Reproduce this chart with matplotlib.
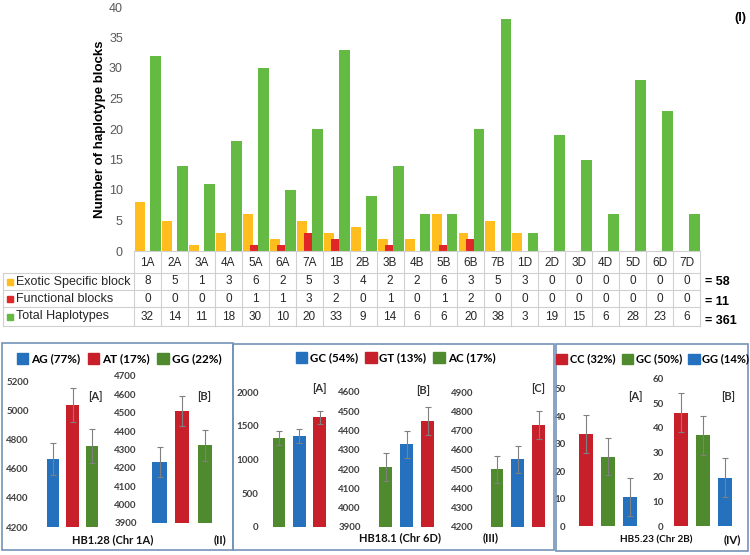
import numpy as np
import matplotlib
matplotlib.use('Agg')
import matplotlib.pyplot as plt
from matplotlib.patches import Patch, Rectangle

plt.rcParams['font.family'] = ['Liberation Sans', 'DejaVu Sans']

# ---- data: haplotype blocks per chromosome (panel I)
chroms = ['1A', '2A', '3A', '4A', '5A', '6A', '7A', '1B', '2B', '3B', '4B',
          '5B', '6B', '7B', '1D', '2D', '3D', '4D', '5D', '6D', '7D']
exotic = [8, 5, 1, 3, 6, 2, 5, 3, 4, 2, 2, 6, 3, 5, 3, 0, 0, 0, 0, 0, 0]
functional = [0, 0, 0, 0, 1, 1, 3, 2, 0, 1, 0, 1, 2, 0, 0, 0, 0, 0, 0, 0, 0]
total = [32, 14, 11, 18, 30, 10, 20, 33, 9, 14, 6, 6, 20, 38, 3, 19, 15, 6, 28, 23, 6]
row_names = ['Exotic Specific block', 'Functional blocks', 'Total Haplotypes']

# ---- data: haplotype effects (panels II - IV)
hb128_labels = ['AG (77%)', 'AT (17%)', 'GG (22%)']
hb128_a = [4666, 5036, 4755]
hb128_a_err = [107, 114, 114]
hb128_b = [4230, 4510, 4323]
hb128_b_err = [81, 81, 83]

hb181_labels = ['GC (54%)', 'GT (13%)', 'AC (17%)']
hb181_a = [1323, 1348, 1625]      # order on plot: AC, GC, GT
hb181_a_err = [104, 100, 98]
hb181_b = [4213, 4329, 4451]
hb181_b_err = [72, 71, 73]
hb181_c = [4499, 4551, 4729]
hb181_c_err = [69, 69, 72]

hb523_labels = ['CC (32%)', 'GC (50%)', 'GG (14%)']
hb523_a = [33.6, 25.3, 10.5]
hb523_a_err = [6.9, 6.7, 6.9]
hb523_b = [46.2, 37.0, 19.7]
hb523_b_err = [8.0, 7.9, 7.9]

YEL, RED, GRN = '#FFBE1E', '#E02626', '#64BA42'
B2, R2, G2 = '#2571BD', '#C8202A', '#4F8A2E'
BORDER = '#7393B8'
W, H = 750, 555


def px_box(x0, y0, x1, y1):
    return [x0 / W, 1 - y1 / H, (x1 - x0) / W, (y1 - y0) / H]


def fx(x):
    return x / W


def fy(y):
    return 1 - y / H


fig = plt.figure(figsize=(7.5, 5.55), dpi=100)

# ================= panel I =================
ax = fig.add_axes(px_box(134, 7, 700, 251))
x = np.arange(len(chroms))
ax.bar(x + 0.04, exotic, width=0.37, align='edge', color=YEL)
ax.bar(x + 0.30, functional, width=0.30, align='edge', color=RED)
ax.bar(x + 0.60, total, width=0.40, align='edge', color=GRN)
ax.set_xlim(0, len(chroms))
ax.set_ylim(0, 40)
ax.set_yticks(range(0, 41, 5))
ax.set_xticks([])
ax.tick_params(axis='y', length=0, pad=8, labelsize=9, labelcolor='#595959')
for s in ['top', 'right', 'left']:
    ax.spines[s].set_visible(False)
ax.spines['bottom'].set_color('#d0d0d0')
ax.set_ylabel('Number of haplotype blocks', fontsize=9.5, fontweight='bold', labelpad=2)
fig.text(fx(740), fy(18), '(I)', ha='center', va='center', fontsize=9, fontweight='bold')

# data table under the bars
lab_w = 131 / 26.95
tb = fig.add_axes(px_box(3, 251, 700, 326))
tb.set_xlim(-lab_w, len(chroms))
tb.set_ylim(75, 0)
tb.axis('off')
lc = '#d0d0d0'
for yy in [22, 39, 56, 75]:
    tb.plot([-lab_w, len(chroms)], [yy, yy], color=lc, lw=0.8, clip_on=False)
for xx in range(len(chroms) + 1):
    tb.plot([xx, xx], [0, 75], color=lc, lw=0.8, clip_on=False)
tb.plot([-lab_w, -lab_w], [22, 75], color=lc, lw=0.8, clip_on=False)
row_y = [30.5, 47.5, 65.5]
for i, c in enumerate(chroms):
    tb.text(i + 0.5, 11.5, c, ha='center', va='center', fontsize=8.5, color='#262626')
for r, (vals, col, name) in enumerate(zip([exotic, functional, total], [YEL, RED, GRN], row_names)):
    tb.plot(-lab_w + 0.26, row_y[r], 's', ms=4, color=col, clip_on=False)
    tb.text(-lab_w + 0.48, row_y[r], name, ha='left', va='center', fontsize=9, color='#262626')
    for i, v in enumerate(vals):
        tb.text(i + 0.5, row_y[r], str(v), ha='center', va='center', fontsize=8.5, color='#262626')
sum_y = [31, 51, 70]
for r, vals in enumerate([exotic, functional, total]):
    tb.text(len(chroms) + 0.2, sum_y[r], '= %d' % sum(vals), ha='left', va='center',
            fontsize=9, fontweight='bold', clip_on=False)

# ================= panels II - IV =================
LF = ['Lato', 'DejaVu Sans']


def small_bars(lbl_right, c0, s, ytop, ybot, ylim, step, vals, errs, colors, tag, tag_xy):
    left = lbl_right + 3
    a = fig.add_axes(px_box(left, ytop, c0 + 2.75 * s, ybot))
    a.bar(range(3), vals, width=0.62, color=colors, yerr=errs,
          error_kw=dict(ecolor='#808080', elinewidth=0.8, capsize=2, capthick=0.8))
    a.set_xlim(-(c0 - left) / s, 2.75)
    a.set_ylim(*ylim)
    a.set_yticks(np.arange(ylim[0], ylim[1] + step / 2, step))
    a.set_xticks([])
    a.tick_params(axis='y', length=0, pad=3, labelsize=7, labelcolor='#404040')
    for t in a.get_yticklabels():
        t.set_fontweight('bold')
        t.set_family(LF)
    for sp in a.spines.values():
        sp.set_visible(False)
    a.patch.set_alpha(0)
    fig.text(fx(tag_xy[0]), fy(tag_xy[1]), tag, ha='center', va='center',
             fontsize=8, fontweight='bold', color='#333333', family=LF)
    return a


def legend(labels, colors, cx, cy, size):
    hs = [Patch(color=c) for c in colors]
    fig.legend(hs, labels, loc='center', bbox_to_anchor=(fx(cx), fy(cy)), ncol=3,
               frameon=False, handlelength=1.0, handleheight=1.0, handletextpad=0.25,
               columnspacing=0.6, borderpad=0, borderaxespad=0,
               prop=dict(family=LF, weight='bold', size=size))


def caption(text, cx, cy, size):
    fig.text(fx(cx), fy(cy), text, ha='center', va='center', fontsize=size,
             fontweight='bold', family=LF, color='#111111')


# panel II
legend(hb128_labels, [B2, R2, G2], 119, 359, 8.5)
small_bars(30, 53, 19.5, 381, 527, (4200, 5200), 200, hb128_a, hb128_a_err, [B2, R2, G2], '[A]', (95, 396))
small_bars(138, 159.5, 22.7, 376, 523, (3900, 4700), 100, hb128_b, hb128_b_err, [B2, R2, G2], '[B]', (204, 397))
caption('HB1.28 (Chr 1A)', 113, 540, 8)
caption('(II)', 220, 540, 8.2)

# panel III
legend(hb181_labels, [B2, R2, G2], 395.5, 358, 8.3)
small_bars(260, 279, 20.25, 392, 527, (0, 2000), 500, hb181_a, hb181_a_err, [G2, B2, R2], '[A]', (319, 388))
small_bars(362, 385.5, 21, 392, 527, (3900, 4600), 100, hb181_b, hb181_b_err, [G2, B2, R2], '[B]', (423, 390))
small_bars(475, 497, 20.75, 392, 527, (4200, 4900), 100, hb181_c, hb181_c_err, [G2, B2, R2], '[C]', (538, 388))
caption('HB18.1 (Chr 6D)', 400, 538, 8)
caption('(III)', 491, 538, 8.2)

# panel IV
legend(hb523_labels, [R2, G2, B2], 652.5, 359, 8.0)
small_bars(567, 586, 22, 389, 526, (0, 50), 10, hb523_a, hb523_a_err, [R2, G2, B2], '[A]', (635, 396))
small_bars(665, 681, 22, 379, 526, (0, 60), 10, hb523_b, hb523_b_err, [R2, G2, B2], '[B]', (728, 396))
caption('HB5.23 (Chr 2B)', 656, 540, 7.2)
caption('(IV)', 732, 540, 8.2)

# panel frames
for x0, y0, x1, y1 in [(2, 343, 233, 550), (233, 344, 554, 550), (556, 344, 748, 551)]:
    fig.add_artist(Rectangle((fx(x0), fy(y1)), (x1 - x0) / W, (y1 - y0) / H,
                             transform=fig.transFigure, fill=False, ec=BORDER, lw=1.2))

fig.savefig('out.png', dpi=100)
